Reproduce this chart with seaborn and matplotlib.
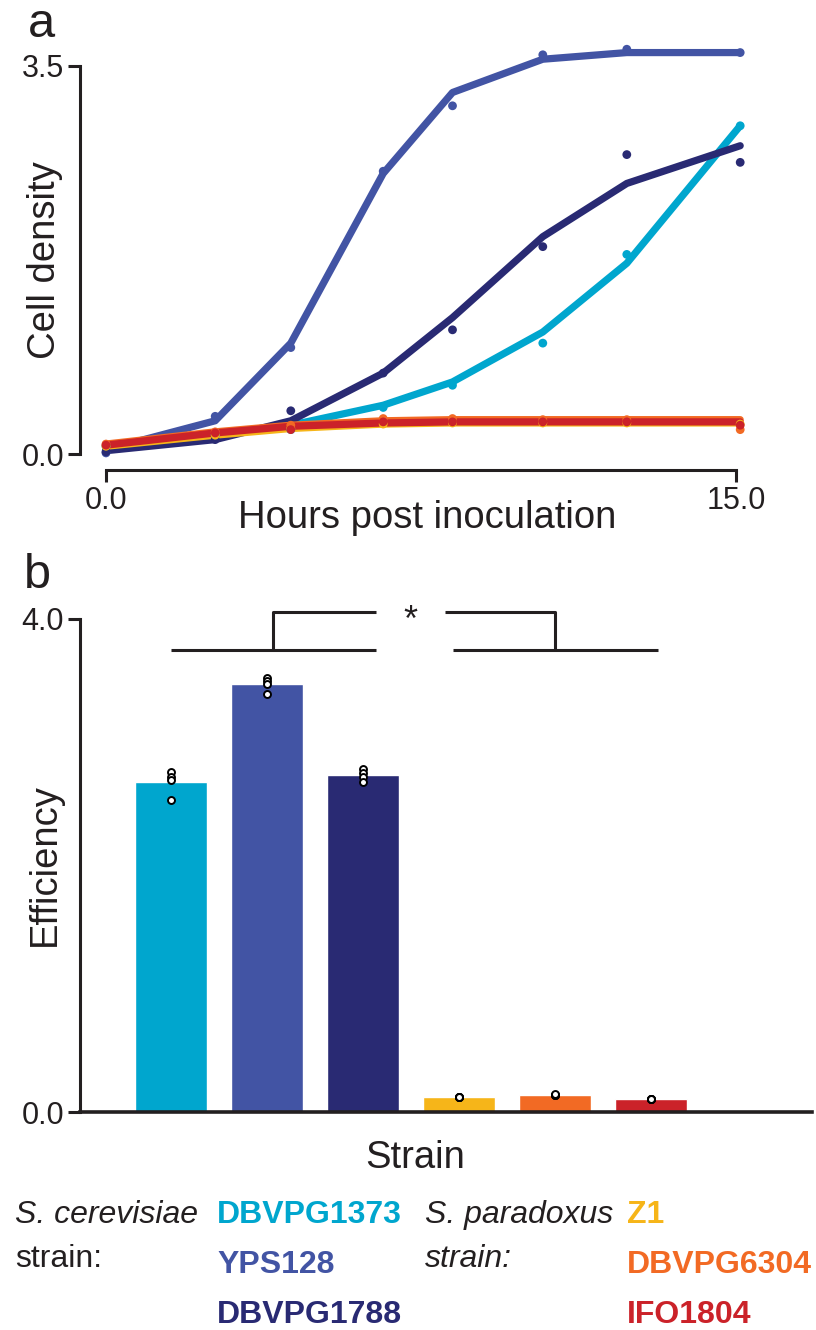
import matplotlib
matplotlib.use("Agg")
import matplotlib.pyplot as plt
import numpy as np
import pandas as pd
import seaborn as sns

# ---------------- data ----------------
strains = ["DBVPG1373", "YPS128", "DBVPG1788", "Z1", "DBVPG6304", "IFO1804"]
colors = ["#00A6CE", "#4254A4", "#292A73", "#F6B519", "#F26A24", "#CB2229"]

hours = [0, 2.6, 4.4, 6.6, 8.25, 10.4, 12.4, 15.1]

# growth curves (lines)
line_DBVPG1373 = [0.06, 0.17, 0.26, 0.44, 0.65, 1.10, 1.72, 2.96]
line_YPS128 = [0.04, 0.30, 1.00, 2.53, 3.26, 3.56, 3.62, 3.62]
line_DBVPG1788 = [0.03, 0.13, 0.30, 0.73, 1.23, 1.96, 2.44, 2.78]
line_Z1 = [0.07, 0.17, 0.23, 0.27, 0.28, 0.28, 0.28, 0.28]
line_DBVPG6304 = [0.09, 0.20, 0.26, 0.30, 0.31, 0.31, 0.31, 0.31]
line_IFO1804 = [0.08, 0.19, 0.25, 0.28, 0.29, 0.29, 0.29, 0.29]

# measured points
pts_DBVPG1373 = [0.07, 0.17, 0.22, 0.42, 0.62, 1.00, 1.80, 2.96]
pts_YPS128 = [0.01, 0.34, 0.96, 2.55, 3.14, 3.60, 3.65, 3.62]
pts_DBVPG1788 = [0.02, 0.13, 0.39, 0.73, 1.12, 1.87, 2.70, 2.63]
pts_Z1 = [0.07, 0.17, 0.23, 0.27, 0.28, 0.28, 0.28, 0.27]
pts_DBVPG6304 = [0.09, 0.20, 0.26, 0.32, 0.32, 0.31, 0.31, 0.22]
pts_IFO1804 = [0.08, 0.19, 0.22, 0.29, 0.29, 0.29, 0.29, 0.26]

# efficiency replicates
eff_DBVPG1373 = [2.76, 2.72, 2.69, 2.53]
eff_YPS128 = [3.52, 3.50, 3.47, 3.39]
eff_DBVPG1788 = [2.78, 2.75, 2.72, 2.68]
eff_Z1 = [0.118, 0.122, 0.120, 0.124]
eff_DBVPG6304 = [0.136, 0.140, 0.138, 0.142]
eff_IFO1804 = [0.103, 0.107, 0.105, 0.106]

lines = [line_DBVPG1373, line_YPS128, line_DBVPG1788, line_Z1, line_DBVPG6304, line_IFO1804]
pts = [pts_DBVPG1373, pts_YPS128, pts_DBVPG1788, pts_Z1, pts_DBVPG6304, pts_IFO1804]
effs = [eff_DBVPG1373, eff_YPS128, eff_DBVPG1788, eff_Z1, eff_DBVPG6304, eff_IFO1804]

df_line = pd.DataFrame([(s, h, v) for s, vals in zip(strains, lines) for h, v in zip(hours, vals)],
                       columns=["strain", "hours", "density"])
df_pts = pd.DataFrame([(s, h, v) for s, vals in zip(strains, pts) for h, v in zip(hours, vals)],
                      columns=["strain", "hours", "density"])
df_eff = pd.DataFrame([(s, v) for s, vals in zip(strains, effs) for v in vals],
                      columns=["strain", "eff"])

# ---------------- style ----------------
sns.set_style("white")
plt.rcParams["font.family"] = ["Liberation Sans", "DejaVu Sans"]
plt.rcParams["axes.linewidth"] = 2.2
INK = "#231F20"

W, H = 816, 1330
fig = plt.figure(figsize=(W / 100, H / 100), dpi=100)


def px_axes(left, right, top, bottom):
    return fig.add_axes([left / W, 1 - bottom / H, (right - left) / W, (bottom - top) / H])


pal = dict(zip(strains, colors))

# ---------------- panel a ----------------
ax1 = px_axes(93.4, 752.8, 43.7, 462.9)
sns.lineplot(data=df_line, x="hours", y="density", hue="strain", hue_order=strains,
             palette=pal, linewidth=5.2, legend=False, estimator=None, sort=False,
             ax=ax1, solid_joinstyle="round", solid_capstyle="round")
sns.scatterplot(data=df_pts, x="hours", y="density", hue="strain", hue_order=strains,
                palette=pal, s=40, linewidth=0, legend=False, ax=ax1, zorder=3)
ax1.set_xlim(-0.3, 15.4)
ax1.set_ylim(-0.08, 3.7)
for sp in ["top", "right"]:
    ax1.spines[sp].set_visible(False)
ax1.spines["left"].set_position(("outward", 9.65))
ax1.spines["bottom"].set_position(("outward", 5.1))
ax1.spines["left"].set_bounds(0, 3.5)
ax1.spines["bottom"].set_bounds(0, 15)
for sp in ["left", "bottom"]:
    ax1.spines[sp].set_color(INK)
ax1.set_xticks([0, 15])
ax1.set_xticklabels(["0.0", "15.0"])
ax1.set_yticks([0, 3.5])
ax1.set_yticklabels(["0.0", "3.5"])
ax1.tick_params(axis="both", direction="out", length=8.6, width=2.2, labelsize=22,
                pad=3, color=INK, labelcolor=INK, left=True, bottom=True)
ax1.set_xlabel("Hours post inoculation", fontsize=27.5, color=INK)
ax1.set_ylabel("Cell density", fontsize=27.5, color=INK)
ax1.xaxis.set_label_coords((427 - 93.4) / (752.8 - 93.4), -(518 - 462.9) / (462.9 - 43.7))
ax1.xaxis.label.set_va("center")
ax1.yaxis.set_label_coords(-(93.4 - 45) / (752.8 - 93.4), (462.9 - 260) / (462.9 - 43.7))
ax1.yaxis.label.set_va("center")

# ---------------- panel b ----------------
ax2 = px_axes(80, 812, 594.35, 1112)
sns.barplot(data=df_eff, x="strain", y="eff", hue="strain", order=strains, hue_order=strains,
            palette=pal, width=0.75, errorbar=None, legend=False, saturation=1, ax=ax2)
sns.stripplot(data=df_eff, x="strain", y="eff", order=strains, jitter=False, color="white",
              edgecolor="black", linewidth=1.4, size=5, ax=ax2, zorder=4)
ax2.set_xlim(-0.95, 6.68)
ax2.set_ylim(0, 4.2)
for sp in ["top", "right"]:
    ax2.spines[sp].set_visible(False)
ax2.spines["left"].set_bounds(0, 4.0)
for sp in ["left", "bottom"]:
    ax2.spines[sp].set_color(INK)
ax2.spines["bottom"].set_linewidth(2.6)
ax2.set_xticks([])
ax2.set_yticks([0, 4.0])
ax2.set_yticklabels(["0.0", "4.0"])
ax2.tick_params(axis="y", direction="out", length=8.6, width=2.2, labelsize=22, pad=3,
                color=INK, labelcolor=INK, left=True)
ax2.set_xlabel("Strain", fontsize=27.5, color=INK)
ax2.set_ylabel("Efficiency", fontsize=27.5, color=INK)
ax2.xaxis.set_label_coords((415 - 80) / (812 - 80), -(1158 - 1112) / (1112 - 594.35))
ax2.xaxis.label.set_va("center")
ax2.yaxis.set_label_coords(-(80 - 45) / (812 - 80), (1112 - 865) / (1112 - 594.35))
ax2.yaxis.label.set_va("center")

# significance bracket
lo, hi = 3.75, 4.06
bk = dict(color=INK, lw=2.2, clip_on=False, solid_capstyle="butt")
ax2.plot([0.0, 2.14], [lo, lo], **bk)
ax2.plot([1.06, 1.06, 2.14], [lo, hi, hi], **bk)
ax2.plot([2.94, 5.07], [lo, lo], **bk)
ax2.plot([2.85, 4.0, 4.0], [hi, hi, lo], **bk)
ax2.text(2.49, 3.90, "*", fontsize=26, ha="center", va="baseline", color=INK)

# panel letters
fig.text(28 / W, 1 - 37 / H, "a", fontsize=35, ha="left", va="baseline", color=INK)
fig.text(24 / W, 1 - 588 / H, "b", fontsize=35, ha="left", va="baseline", color=INK)

# legend text
fs = 23
def ft(x, y, s, **kw):
    fig.text(x / W, 1 - y / H, s, fontsize=fs, ha="left", va="center", **kw)

ft(15, 1215, "S. cerevisiae", style="italic", color=INK)
ft(15, 1259, "strain:", color=INK)
ft(217, 1215, strains[0], weight="bold", color=colors[0])
ft(217, 1265, strains[1], weight="bold", color=colors[1])
ft(217, 1315, strains[2], weight="bold", color=colors[2])
ft(425, 1215, "S. paradoxus", style="italic", color=INK)
ft(425, 1259, "strain:", style="italic", color=INK)
ft(627, 1215, strains[3], weight="bold", color=colors[3])
ft(627, 1265, strains[4], weight="bold", color=colors[4])
ft(627, 1315, strains[5], weight="bold", color=colors[5])

fig.savefig("out.png", dpi=100)
